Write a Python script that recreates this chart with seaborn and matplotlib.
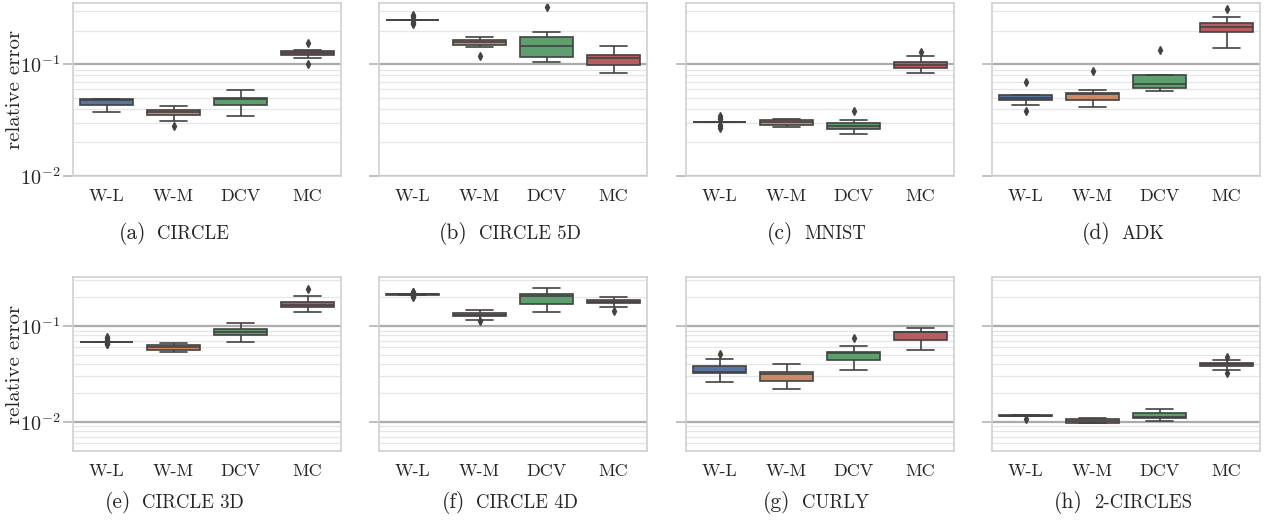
import numpy as np
import pandas as pd
import matplotlib
matplotlib.use("Agg")
import matplotlib.pyplot as plt
from matplotlib.offsetbox import AnchoredOffsetbox, HPacker, TextArea
import seaborn as sns

# Estimators compared in every panel
methods = ["W-L", "W-M", "DCV", "MC"]

# Relative error of each estimator over repeated runs (one list per method)
err_circle = [
    [0.0372, 0.0395, 0.0418, 0.0433, 0.0452, 0.0470, 0.0480, 0.0484, 0.0487, 0.0489, 0.0489, 0.0489, 0.0489],
    [0.0281, 0.0313, 0.0332, 0.0349, 0.0358, 0.0366, 0.0372, 0.0377, 0.0382, 0.0387, 0.0398, 0.0410, 0.0421],
    [0.0342, 0.0380, 0.0410, 0.0433, 0.0455, 0.0472, 0.0485, 0.0492, 0.0497, 0.0502, 0.0530, 0.0560, 0.0589],
    [0.1012, 0.1130, 0.1175, 0.1211, 0.1235, 0.1255, 0.1270, 0.1285, 0.1305, 0.1324, 0.1340, 0.1360, 0.1540],
]
err_circle5d = [
    [0.2296, 0.2335, 0.2375, 0.2490, 0.2497, 0.2503, 0.2508, 0.2512, 0.2518, 0.2525, 0.2655, 0.2715, 0.2775],
    [0.1200, 0.1420, 0.1455, 0.1490, 0.1520, 0.1550, 0.1580, 0.1610, 0.1640, 0.1670, 0.1700, 0.1725, 0.1745],
    [0.1055, 0.1100, 0.1140, 0.1170, 0.1260, 0.1360, 0.1450, 0.1550, 0.1650, 0.1746, 0.1830, 0.1960, 0.3260],
    [0.0836, 0.0880, 0.0930, 0.0980, 0.1030, 0.1080, 0.1130, 0.1160, 0.1190, 0.1220, 0.1300, 0.1380, 0.1460],
]
err_mnist = [
    [0.0272, 0.0280, 0.0288, 0.0302, 0.0303, 0.0303, 0.0304, 0.0305, 0.0305, 0.0306, 0.0325, 0.0334, 0.0344],
    [0.0275, 0.0279, 0.0282, 0.0285, 0.0292, 0.0299, 0.0304, 0.0308, 0.0313, 0.0317, 0.0319, 0.0321, 0.0322],
    [0.0236, 0.0245, 0.0254, 0.0262, 0.0269, 0.0276, 0.0281, 0.0286, 0.0291, 0.0297, 0.0305, 0.0317, 0.0382],
    [0.0836, 0.0870, 0.0905, 0.0932, 0.0955, 0.0978, 0.0995, 0.1010, 0.1030, 0.1048, 0.1100, 0.1187, 0.1288],
]
err_adk = [
    [0.0385, 0.0432, 0.0455, 0.0479, 0.0490, 0.0498, 0.0505, 0.0515, 0.0525, 0.0534, 0.0535, 0.0536, 0.0690],
    [0.0412, 0.0440, 0.0460, 0.0476, 0.0500, 0.0525, 0.0540, 0.0544, 0.0547, 0.0550, 0.0565, 0.0585, 0.0871],
    [0.0577, 0.0590, 0.0602, 0.0614, 0.0630, 0.0648, 0.0662, 0.0700, 0.0750, 0.0802, 0.0804, 0.0806, 0.1340],
    [0.1408, 0.1600, 0.1780, 0.1934, 0.2010, 0.2100, 0.2170, 0.2230, 0.2290, 0.2344, 0.2480, 0.2667, 0.3126],
]
err_circle3d = [
    [0.0649, 0.0658, 0.0667, 0.0682, 0.0684, 0.0685, 0.0686, 0.0687, 0.0688, 0.0690, 0.0722, 0.0745, 0.0768],
    [0.0540, 0.0550, 0.0558, 0.0566, 0.0578, 0.0590, 0.0600, 0.0610, 0.0620, 0.0629, 0.0640, 0.0650, 0.0660],
    [0.0676, 0.0720, 0.0760, 0.0800, 0.0825, 0.0845, 0.0866, 0.0885, 0.0905, 0.0930, 0.0980, 0.1030, 0.1080],
    [0.1410, 0.1480, 0.1530, 0.1567, 0.1605, 0.1645, 0.1680, 0.1715, 0.1755, 0.1790, 0.1880, 0.2040, 0.2410],
]
err_circle4d = [
    [0.2004, 0.2040, 0.2075, 0.2125, 0.2130, 0.2134, 0.2138, 0.2142, 0.2146, 0.2150, 0.2200, 0.2245, 0.2288],
    [0.1119, 0.1170, 0.1220, 0.1262, 0.1275, 0.1288, 0.1300, 0.1318, 0.1337, 0.1355, 0.1390, 0.1425, 0.1460],
    [0.1390, 0.1500, 0.1610, 0.1707, 0.1830, 0.1950, 0.2070, 0.2095, 0.2115, 0.2138, 0.2250, 0.2370, 0.2490],
    [0.1443, 0.1578, 0.1650, 0.1723, 0.1745, 0.1768, 0.1790, 0.1820, 0.1850, 0.1880, 0.1920, 0.1960, 0.2004],
]
err_curly = [
    [0.0263, 0.0290, 0.0310, 0.0324, 0.0326, 0.0328, 0.0330, 0.0345, 0.0362, 0.0380, 0.0415, 0.0450, 0.0507],
    [0.0219, 0.0235, 0.0250, 0.0265, 0.0282, 0.0300, 0.0316, 0.0321, 0.0327, 0.0332, 0.0355, 0.0380, 0.0402],
    [0.0351, 0.0385, 0.0415, 0.0443, 0.0470, 0.0500, 0.0523, 0.0526, 0.0529, 0.0532, 0.0560, 0.0619, 0.0750],
    [0.0558, 0.0610, 0.0665, 0.0715, 0.0765, 0.0815, 0.0860, 0.0864, 0.0868, 0.0872, 0.0900, 0.0925, 0.0946],
]
err_2circles = [
    [0.01070, 0.01145, 0.01146, 0.01147, 0.01158, 0.01165, 0.01170, 0.01176, 0.01183, 0.01191, 0.01192, 0.01193, 0.01194],
    [0.00970, 0.00972, 0.00974, 0.00976, 0.00990, 0.01005, 0.01023, 0.01040, 0.01057, 0.01074, 0.01083, 0.01092, 0.01100],
    [0.01024, 0.01050, 0.01075, 0.01093, 0.01105, 0.01118, 0.01130, 0.01160, 0.01205, 0.01250, 0.01285, 0.01320, 0.01355],
    [0.0326, 0.0352, 0.0366, 0.0381, 0.0387, 0.0393, 0.0399, 0.0405, 0.0410, 0.0416, 0.0425, 0.0440, 0.0475],
]

panel_data = [err_circle, err_circle5d, err_mnist, err_adk,
              err_circle3d, err_circle4d, err_curly, err_2circles]
panel_letters = ["(a)", "(b)", "(c)", "(d)", "(e)", "(f)", "(g)", "(h)"]
panel_names = ["CIRCLE", "CIRCLE 5D", "MNIST", "ADK",
               "CIRCLE 3D", "CIRCLE 4D", "CURLY", "2-CIRCLES"]
row_ylims = [(0.01, 0.355), (0.005, 0.325)]

sns.set_theme(style="whitegrid", palette="deep")
plt.rcParams["font.family"] = ["cmr10", "DejaVu Serif"]
plt.rcParams["mathtext.fontset"] = "cm"
plt.rcParams["axes.formatter.use_mathtext"] = True
plt.rcParams["axes.unicode_minus"] = False

W, H = 1266, 525
fig = plt.figure(figsize=(W / 100, H / 100), dpi=100)

col_left = [73, 379, 686, 992]
ax_w = 268
row_top = [3, 277]
row_h = [173, 174]
caption_x = [174, 510, 816, 1123]
caption_y = [233, 503]

palette = sns.color_palette("deep", 4)
line_gray = "#424242"

for i, values in enumerate(panel_data):
    r, c = divmod(i, 4)
    ax = fig.add_axes([col_left[c] / W, 1 - (row_top[r] + row_h[r]) / H,
                       ax_w / W, row_h[r] / H])
    df = pd.DataFrame({
        "method": np.repeat(methods, [len(v) for v in values]),
        "error": np.concatenate(values),
    })
    sns.boxplot(data=df, x="method", y="error", hue="method", order=methods,
                hue_order=methods, palette=palette, legend=False, ax=ax,
                width=0.8, linewidth=1.2, linecolor=line_gray, fliersize=4,
                flierprops=dict(marker="d", markerfacecolor=line_gray,
                                markeredgecolor=line_gray))
    ax.set_yscale("log")
    ax.set_ylim(*row_ylims[r])
    ax.set_xlim(-0.5, 3.5)
    ax.set_xlabel("")
    ax.set_ylabel("")
    ax.xaxis.grid(False)
    ax.yaxis.grid(True, which="major", color="#ababab", linewidth=1.6)
    ax.yaxis.grid(True, which="minor", color="#e6e6e6", linewidth=0.9)
    ax.set_axisbelow(True)
    for sp in ax.spines.values():
        sp.set_color("#d0d0d0")
        sp.set_linewidth(1.2)
    ax.tick_params(axis="y", which="major", left=True, length=7, width=1.2,
                   color="#b5b5b5", labelsize=14.5, pad=2)
    ax.tick_params(axis="y", which="minor", left=False, length=0)
    ax.tick_params(axis="x", which="both", bottom=False, labelsize=13, pad=3)
    if c != 0:
        ax.tick_params(axis="y", labelleft=False)
    else:
        fig.text(15 / W, 1 - (row_top[r] + row_h[r] / 2) / H, "relative error",
                 rotation=90, ha="center", va="center", fontsize=15)

    caption = HPacker(children=[
        TextArea(panel_letters[i], textprops=dict(size=15.5)),
        TextArea(panel_names[i], textprops=dict(size=13.5)),
    ], sep=8, align="baseline", pad=0)
    box = AnchoredOffsetbox(loc="center", child=caption, frameon=False, pad=0,
                            borderpad=0,
                            bbox_to_anchor=(caption_x[c] / W, 1 - caption_y[r] / H),
                            bbox_transform=fig.transFigure)
    fig.add_artist(box)

fig.savefig("out.png", dpi=100)
